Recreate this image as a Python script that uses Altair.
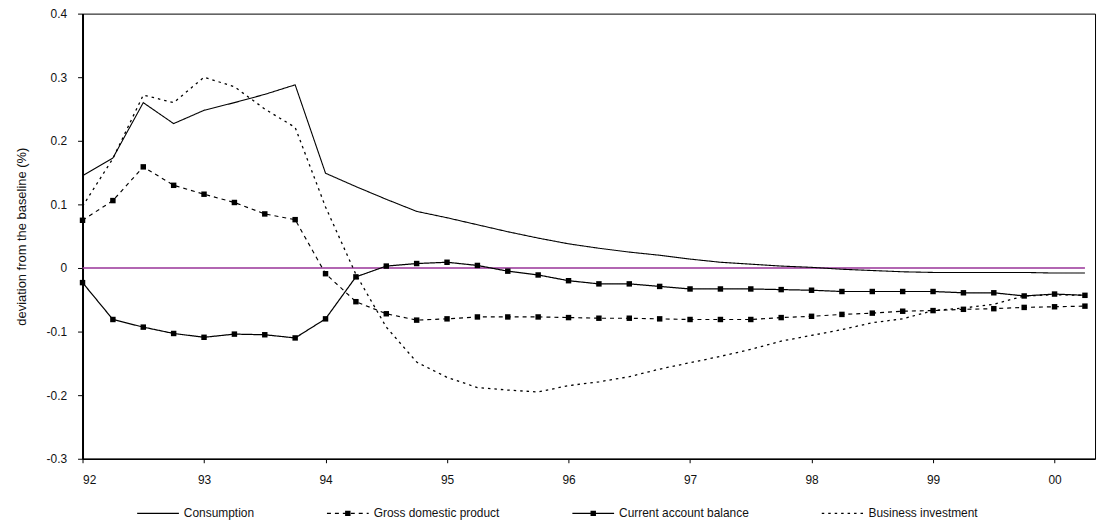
import altair as alt
import pandas as pd

# Quarterly dates, 1992Q1 .. 2000Q2
quarters = [1992.00, 1992.25, 1992.50, 1992.75, 1993.00, 1993.25, 1993.50, 1993.75,
            1994.00, 1994.25, 1994.50, 1994.75, 1995.00, 1995.25, 1995.50, 1995.75,
            1996.00, 1996.25, 1996.50, 1996.75, 1997.00, 1997.25, 1997.50, 1997.75,
            1998.00, 1998.25, 1998.50, 1998.75, 1999.00, 1999.25, 1999.50, 1999.75,
            2000.00, 2000.25]

series_names = ["Consumption", "Gross domestic product",
                "Current account balance", "Business investment"]

consumption = [0.145, 0.173, 0.260, 0.227, 0.248, 0.260, 0.273, 0.288,
               0.149, 0.128, 0.108, 0.089, 0.079, 0.068, 0.057, 0.047,
               0.038, 0.031, 0.025, 0.020, 0.014, 0.009, 0.006, 0.003,
               0.001, -0.002, -0.004, -0.006, -0.007, -0.007, -0.007, -0.007,
               -0.008, -0.008]

gdp = [0.075, 0.106, 0.159, 0.130, 0.116, 0.103, 0.085, 0.076,
       -0.009, -0.053, -0.072, -0.082, -0.080, -0.077, -0.077, -0.077,
       -0.078, -0.079, -0.079, -0.080, -0.081, -0.081, -0.081, -0.078,
       -0.076, -0.073, -0.071, -0.068, -0.067, -0.065, -0.064, -0.062,
       -0.061, -0.060]

current_account = [-0.023, -0.081, -0.093, -0.103, -0.109, -0.104, -0.105, -0.110,
                   -0.080, -0.014, 0.003, 0.007, 0.009, 0.004, -0.005, -0.011,
                   -0.020, -0.025, -0.025, -0.029, -0.033, -0.033, -0.033, -0.034,
                   -0.035, -0.037, -0.037, -0.037, -0.037, -0.039, -0.039, -0.044,
                   -0.041, -0.043]

business_investment = [0.097, 0.172, 0.272, 0.260, 0.300, 0.285, 0.250, 0.221,
                       0.096, -0.010, -0.093, -0.148, -0.172, -0.188, -0.192, -0.195,
                       -0.185, -0.179, -0.171, -0.159, -0.149, -0.139, -0.128, -0.115,
                       -0.106, -0.097, -0.086, -0.080, -0.067, -0.063, -0.057, -0.044,
                       -0.042, -0.043]

baseline = [0.0] * len(quarters)

year_ticks = [1992, 1993, 1994, 1995, 1996, 1997, 1998, 1999, 2000]
y_ticks = [-0.3, -0.2, -0.1, 0.0, 0.1, 0.2, 0.3, 0.4]

# ---- tables ----
rows = []
for name, vals in zip(series_names, [consumption, gdp, current_account, business_investment]):
    for t, v in zip(quarters, vals):
        rows.append({"t": t, "value": v, "series": name})
df = pd.DataFrame(rows)
base_df = pd.DataFrame({"t": quarters, "value": baseline})

FONT = "Liberation Sans"

x_enc = alt.X("t:Q",
              scale=alt.Scale(domain=[1992, 2000.333], nice=False, zero=False),
              axis=alt.Axis(values=year_ticks, title=None,
                            labelExpr="slice(toString(datum.value), 2)",
                            tickSize=4, labelPadding=12, domainWidth=1.5,
                            labelFontSize=12))
y_enc = alt.Y("value:Q",
              scale=alt.Scale(domain=[-0.3, 0.4], nice=False, zero=False),
              axis=alt.Axis(values=y_ticks, title="deviation from the baseline (%)",
                            labelExpr="abs(datum.value) < 1e-9 ? '0' : (datum.value < 0 ? '-' : '') + format(abs(datum.value), '.1f')",
                            tickSize=5, labelPadding=11, domainWidth=2,
                            titleFont=FONT, titleFontSize=13, titleFontWeight="normal",
                            titleColor="#111", titlePadding=20,
                            minExtent=34, maxExtent=34))

dash_range = [[1, 0], [4, 4], [1, 0], [2.5, 4]]
width_range = [1.1, 1.3, 1.2, 0.9]
marker_paths = [
    "M-1,0H1",
    "M-1,0H1M-0.13,-0.13H0.13V0.13H-0.13Z",
    "M-1,0H1M-0.13,-0.13H0.13V0.13H-0.13Z",
    "M-1,0H1",
]

legend_common = dict(title=None, orient="none", legendX=54, legendY=481,
                     direction="horizontal", symbolSize=1764,
                     labelFont=FONT, labelFontSize=12, labelOffset=4,
                     columnPadding=70)

line_legend = alt.Legend(symbolType="stroke", symbolStrokeColor="black",
                         symbolStrokeWidth=1, labelColor="#111", **legend_common)
marker_legend = alt.Legend(symbolFillColor="black", labelColor="#111",
                           labelOpacity=0, **legend_common)

zero_line = alt.Chart(base_df).mark_line(color="#993399", strokeWidth=1.5).encode(
    x=x_enc, y=y_enc)

lines = alt.Chart(df).mark_line(color="black").encode(
    x=x_enc, y=y_enc,
    strokeDash=alt.StrokeDash("series:N",
                              scale=alt.Scale(domain=series_names, range=dash_range),
                              legend=line_legend),
    strokeWidth=alt.StrokeWidth("series:N",
                                scale=alt.Scale(domain=series_names, range=width_range),
                                legend=None),
    detail="series:N",
)

markers = alt.Chart(df).transform_filter(
    alt.FieldOneOfPredicate(field="series", oneOf=[series_names[1], series_names[2]])
).mark_square(color="black", size=30, opacity=1).encode(
    x=x_enc, y=y_enc, detail="series:N")

legend_layer = alt.Chart(df).transform_filter("false").mark_point(
    filled=True, color="black", opacity=1).encode(
    shape=alt.Shape("series:N",
                    scale=alt.Scale(domain=series_names, range=marker_paths),
                    legend=marker_legend))

chart = alt.layer(zero_line, lines, markers, legend_layer).resolve_scale(
    strokeDash="independent", shape="independent", strokeWidth="independent"
).resolve_legend(
    strokeDash="independent", shape="independent"
).properties(
    width=1019, height=448,
    autosize=alt.AutoSizeParams(type="none"),
    padding={"left": 75, "top": 4, "right": 3, "bottom": 62},
).configure_view(
    stroke="black", strokeWidth=1
).configure_axis(
    grid=False, domainColor="black", tickColor="black",
    labelColor="#111", labelFont=FONT, labelFontSize=12,
)

chart.save("out.html", embed_options={"renderer": "svg", "actions": False})
